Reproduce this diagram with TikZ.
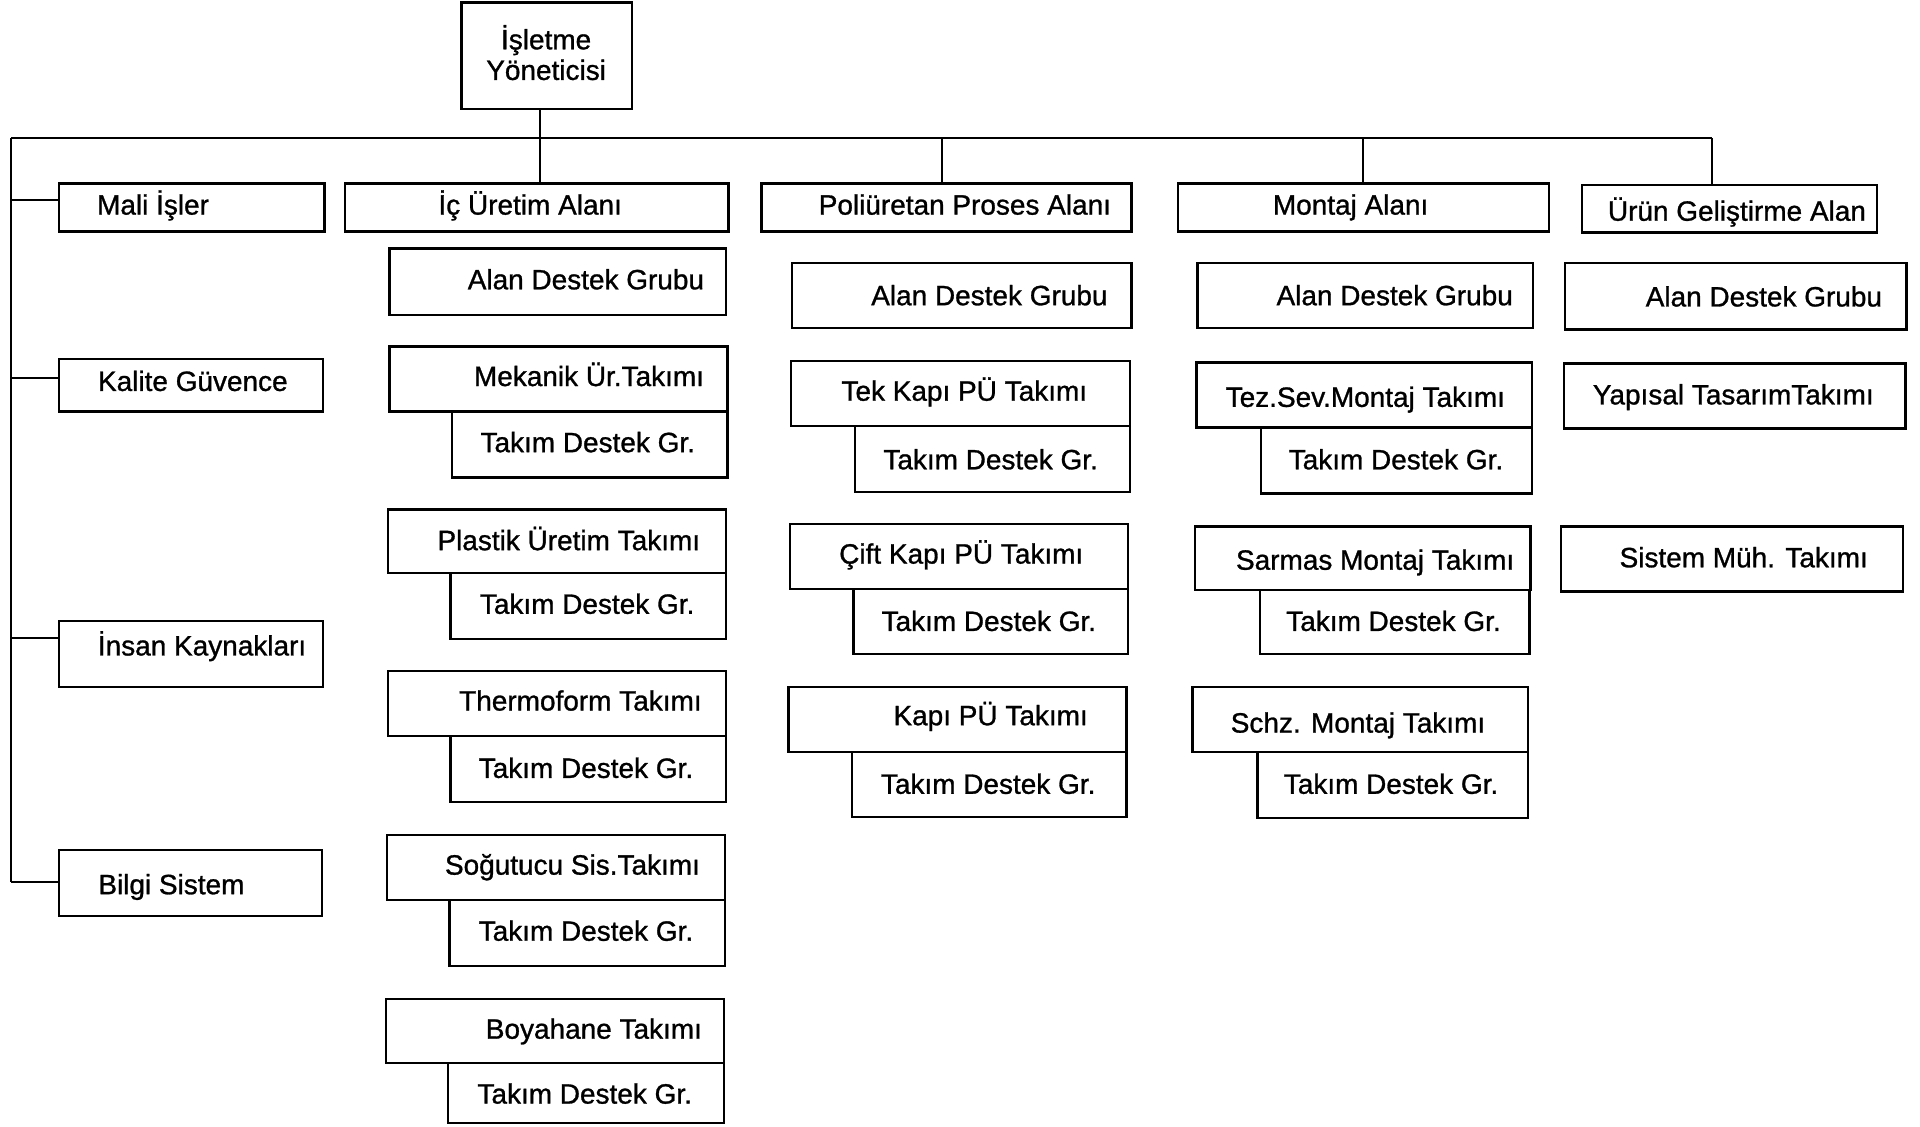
\documentclass[tikz,border=0pt]{standalone}
\usepackage{fontspec}
\setmainfont{Liberation Sans}
% a slightly heavier face for the box labels
\newfontfamily\labelfont{Liberation Sans}[FakeBold=1]
\usetikzlibrary{fit}

\tikzset{
  box/.style={draw=black, line width=1.1pt, inner sep=0pt, rectangle},
  lbl/.style={inner sep=0pt, font=\labelfont\fontsize{13}{15}\selectfont, text height=9.4pt, text depth=0pt},
  wire/.style={draw=black, line width=1pt}
}

% box: name, x1, y1, x2, y2, text-x, text-y, text
\newcommand\orgbox[8]{%
  \node[box, fit={(#2,#3) (#4,#5)}] (#1) {};
  \node[lbl] (#1-t) at (#6,#7) {#8};
}

\begin{document}
\begin{tikzpicture}[x=0.02cm, y=-0.02cm]
\useasboundingbox (0,0) rectangle (1568,920);

% head of the organisation
\node[box, fit={(377,2) (516,89)}] (top) {};
\node[lbl] (top-t1) at (446,32) {İşletme};
\node[lbl] (top-t2) at (446,57) {Yöneticisi};

% staff units on the left
\orgbox{mali}{48}{150}{265}{189}{125}{167}{Mali İşler}
\orgbox{kalite}{48}{293}{264}{336}{157.5}{311}{Kalite Güvence}
\orgbox{insan}{48}{507}{264}{561}{165}{527}{İnsan Kaynakları}
\orgbox{bilgi}{48}{694}{263}{748}{140}{722}{Bilgi Sistem}

% İç Üretim Alanı
\orgbox{ic}{282}{150}{595}{189}{433}{167}{İç Üretim Alanı}
\orgbox{ic0}{318}{203}{593}{257}{478.5}{228}{Alan Destek Grubu}
\orgbox{ic1}{318}{283}{594}{336}{481}{307}{Mekanik Ür.Takımı}
\orgbox{ic1s}{369}{336}{594}{390}{480}{361}{Takım Destek Gr.}
\orgbox{ic2}{317}{416}{593}{468}{464.5}{441}{Plastik Üretim Takımı}
\orgbox{ic2s}{368}{468}{593}{522}{479.5}{493}{Takım Destek Gr.}
\orgbox{ic3}{317}{548}{593}{601}{474}{572}{Thermoform Takımı}
\orgbox{ic3s}{368}{601}{593}{655}{478.5}{627}{Takım Destek Gr.}
\orgbox{ic4}{316}{682}{592}{735}{467.5}{706}{Soğutucu Sis.Takımı}
\orgbox{ic4s}{367}{735}{592}{789}{478.5}{760}{Takım Destek Gr.}
\orgbox{ic5}{315}{816}{591}{868}{485}{840}{Boyahane Takımı}
\orgbox{ic5s}{366}{868}{591}{917}{477.5}{893}{Takım Destek Gr.}

% Poliüretan Proses Alanı
\orgbox{pol}{622}{150}{924}{189}{788}{167}{Poliüretan Proses Alanı}
\orgbox{pol0}{647}{215}{924}{268}{808}{241}{Alan Destek Grubu}
\orgbox{pol1}{646}{295}{923}{348}{787.5}{319}{Tek Kapı PÜ Takımı}
\orgbox{pol1s}{698}{348}{923}{402}{809}{375}{Takım Destek Gr.}
\orgbox{pol2}{645}{428}{921}{481}{785}{452}{Çift Kapı PÜ Takımı}
\orgbox{pol2s}{697}{481}{921}{534}{807.5}{507}{Takım Destek Gr.}
\orgbox{pol3}{644}{561}{920}{614}{809}{584}{Kapı PÜ Takımı}
\orgbox{pol3s}{696}{614}{920}{667}{807}{640}{Takım Destek Gr.}

% Montaj Alanı
\orgbox{mon}{962}{150}{1265}{189}{1103}{167}{Montaj Alanı}
\orgbox{mon0}{978}{215}{1252}{268}{1139}{241}{Alan Destek Grubu}
\orgbox{mon1}{977}{296}{1251}{349}{1115}{324}{Tez.Sev.Montaj Takımı}
\orgbox{mon1s}{1030}{349}{1251}{403}{1140}{375}{Takım Destek Gr.}
\orgbox{mon2}{976}{430}{1250}{482}{1123}{457}{Sarmas Montaj Takımı}
\orgbox{mon2s}{1029}{482}{1249}{534}{1138}{507}{Takım Destek Gr.}
\orgbox{mon3}{974}{561}{1248}{614}{1109}{590}{Schz. Montaj Takımı}
\orgbox{mon3s}{1027}{614}{1248}{668}{1136}{640}{Takım Destek Gr.}

% Ürün Geliştirme Alanı
\orgbox{urun}{1292}{151}{1533}{190}{1418.5}{172}{Ürün Geliştirme Alan}
\orgbox{urun0}{1278}{215}{1557}{269}{1440.5}{242}{Alan Destek Grubu}
\orgbox{urun1}{1277}{297}{1556}{350}{1415.5}{322}{Yapısal TasarımTakımı}
\orgbox{urun2}{1275}{430}{1554}{483}{1424}{455}{Sistem Müh. Takımı}

% main bus and branch points
\coordinate (busL) at (9,113);
\coordinate (busR) at (1398,113);
\coordinate (dpol) at (769,113);
\coordinate (dmon) at (1113,113);
\coordinate (tmali) at (9,163);
\coordinate (tkal) at (9,309);
\coordinate (tins) at (9,521);
\coordinate (tbil) at (9,720);

\draw[wire] (top.south -| 441,0) -- (ic.north -| 441,0);
\draw[wire] (busL) -- (busR);
\draw[wire] (dpol) -- (dpol |- pol.north);
\draw[wire] (dmon) -- (dmon |- mon.north);
\draw[wire] (busR) -- (busR |- urun.north);
\draw[wire] (busL) -- (tbil);
\draw[wire] (tmali) -- (tmali -| mali.west);
\draw[wire] (tkal) -- (tkal -| kalite.west);
\draw[wire] (tins) -- (tins -| insan.west);
\draw[wire] (tbil) -- (tbil -| bilgi.west);
\end{tikzpicture}
\end{document}
